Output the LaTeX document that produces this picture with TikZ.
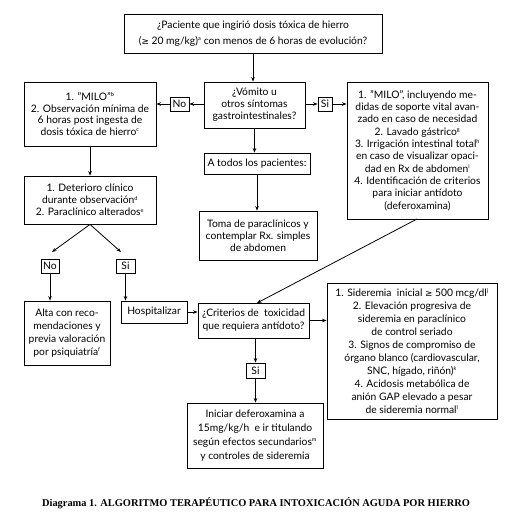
\documentclass[tikz,border=0pt]{standalone}
\usepackage{fontspec}
\setmainfont{Lato}
\newfontfamily\capfont{Liberation Serif}
\newfontfamily\symf{DejaVu Sans}
\usetikzlibrary{arrows.meta}
\newcommand{\mygeq}{{\symf\fontsize{8.8}{8}\selectfont ≥}}
\newcommand{\sps}[1]{\textsuperscript{\fontsize{5.5}{5}\selectfont #1}}
\newcommand{\fs}{10.3}
\tikzset{
  box/.style={draw, line width=0.8pt, rectangle, inner sep=0pt, align=center, font=\fontsize{\fs}{12}\selectfont},
  arr/.style={line width=0.8pt, -{Stealth[length=4.5pt,width=3.5pt]}},
}
\newcommand{\bx}[6][]{\node[box,#1, minimum width={(#4-#2)*1pt}, minimum height={(#5-#3)*1pt}] (#6) at ({(#2+#4)/2},{(#3+#5)/2})}
\begin{document}
\begin{tikzpicture}[x=1pt,y=-1pt]
\useasboundingbox (0,0) rectangle (513,519);
\fill[white] (0,0) rectangle (513,519);
\bx[font=\fontsize{\fs}{15.5}\selectfont]{124}{14}{382}{53}{top}{¿Paciente que ingirió dosis tóxica de hierro\\(\mygeq\ 20 mg/kg)\sps{a} con menos de 6 horas de evolución?};
\bx{204}{82}{305}{128}{vom}{¿Vómito u\\otros síntomas\\gastrointestinales?};
\bx{170}{97}{189}{111}{no1}{No};
\bx{318}{97}{332}{111}{si1}{Si};
\bx[font=\fontsize{\fs}{11.7}\selectfont]{24}{82}{156}{146}{left1}{1. "MILO"\sps{b}\\2. Observación mínima de\\6 horas post ingesta de\\dosis tóxica de hierro\sps{c}};
\bx[font=\fontsize{\fs}{12.3}\selectfont]{347}{82}{488}{219}{right1}{1. "MILO", incluyendo me-\\didas de soporte vital avan-\\zado en caso de necesidad\\2. Lavado gástrico\sps{g}\\3. Irrigación intestinal total\sps{h}\\en caso de visualizar opaci-\\dad en Rx de abdomen\sps{i}\\4. Identificación de criterios\\para iniciar antídoto\\(deferoxamina)};
\bx{204}{153}{310}{174}{atodos}{A todos los pacientes:};
\bx{199}{211}{317}{260}{toma}{Toma de paraclínicos y\\contemplar Rx. simples\\de abdomen};
\bx{24}{176}{156}{224}{left2}{1. Deterioro clínico\\durante observación\sps{d}\\2. Paraclínico alterados\sps{e}};
\bx{41}{259}{59}{273}{no2}{No};
\bx{116}{259}{135}{273}{si2}{Si};
\bx[font=\fontsize{\fs}{13}\selectfont]{24}{301}{110}{365}{alta}{Alta con reco-\\mendaciones y\\previa valoración\\por psiquiatría\sps{f}};
\bx{121}{301}{187}{323}{hosp}{Hospitalizar};
\bx[font=\fontsize{\fs}{13}\selectfont]{198}{303}{309}{338}{crit}{¿Criterios de\ \ toxicidad\\que requiera antídoto?};
\bx{246}{363}{265}{378}{si3}{Si};
\bx[font=\fontsize{\fs}{14}\selectfont]{187}{403}{323}{468}{ini}{Iniciar deferoxamina a\\15mg/kg/h\ \ e ir titulando\\según efectos secundarios\sps{m}\\y controles de sideremia};
\bx[font=\fontsize{\fs}{13}\selectfont]{327}{283}{497}{419}{right2}{1. Sideremia\ \ inicial \mygeq\ 500 mcg/dl\sps{j}\\2. Elevación progresiva de\\sideremia en paraclínico\\de control seriado\\3. Signos de compromiso de\\órgano blanco (cardiovascular,\\SNC, hígado, riñón)\sps{k}\\4. Acidosis metabólica de\\anión GAP elevado a pesar\\de sideremia normal\sps{l}};
\coordinate (noTip) at (52,252);
\coordinate (siTip) at (121,252);
\coordinate (diagS) at (417,219);
\coordinate (diagE) at (257,303);
\draw[arr] (top.south) -- (top.south |- vom.north);
\draw[arr] (vom.west |- no1.east) -- (no1.east);
\draw[arr] (no1.west) -- (no1.west -| left1.east);
\draw[arr] (vom.east |- si1.west) -- (si1.west);
\draw[arr] (si1.east) -- (si1.east -| right1.west);
\draw[arr] (vom.south) -- (vom.south |- atodos.north);
\draw[arr] (atodos.south) -- (atodos.south |- toma.north);
\draw[arr] (left1.south) -- (left2.north);
\draw[arr] (left2.south) -- (noTip);
\draw[arr] (left2.south) -- (siTip);
\draw[arr] (no2.south) -- (no2.south |- alta.north);
\draw[arr] (si2.south) -- (si2.south |- hosp.north);
\draw[arr] (hosp.east) -- (hosp.east -| crit.west);
\draw[arr] (diagS) -- (diagE);
\draw[arr] (crit.east) -- (crit.east -| right2.west);
\draw[arr] (crit.south -| si3.north) -- (si3.north);
\draw[arr] (si3.south) -- (si3.south |- ini.north);
\node[font=\capfont\bfseries\fontsize{10.4}{11}\selectfont] (cap) at (256,503) {Diagrama 1. ALGORITMO TERAPÉUTICO PARA INTOXICACIÓN AGUDA POR HIERRO};
\end{tikzpicture}
\end{document}
